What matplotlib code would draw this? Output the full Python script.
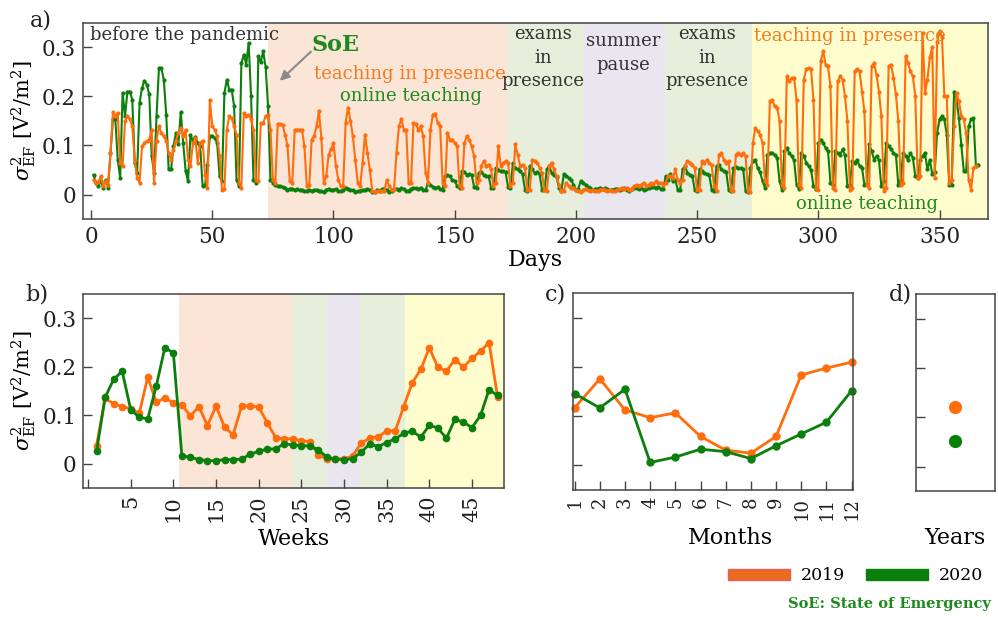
import numpy as np
import matplotlib.pyplot as plt
from matplotlib.patches import Patch

plt.rcParams['font.family'] = 'DejaVu Serif'
plt.rcParams['mathtext.fontset'] = 'dejavuserif'

ORANGE = '#ff6d0d'
GREEN = '#0b7f0b'
TXT_OR = '#f47b20'
TXT_GR = '#1c8a1c'

# daily variance 2019 (1 Jan = Tue), rows are Mon..Sun weeks
daily_2019 = [
    0.030, 0.024, 0.025, 0.037, 0.017, 0.027,
    0.020, 0.085, 0.168, 0.160, 0.166, 0.064, 0.058,
    0.149, 0.160, 0.153, 0.139, 0.071, 0.034, 0.024,
    0.098, 0.105, 0.109, 0.112, 0.132, 0.024, 0.110,
    0.139, 0.126, 0.119, 0.109, 0.085, 0.071, 0.090,
    0.110, 0.125, 0.136, 0.120, 0.132, 0.071, 0.058,
    0.105, 0.115, 0.064, 0.105, 0.110, 0.040, 0.014,
    0.193, 0.139, 0.132, 0.119, 0.078, 0.010, 0.012,
    0.132, 0.160, 0.155, 0.139, 0.122, 0.024, 0.014,
    0.166, 0.160, 0.163, 0.153, 0.132, 0.030, 0.027,
    0.146, 0.146, 0.160, 0.163, 0.132, 0.030, 0.024,
    0.144, 0.144, 0.142, 0.122, 0.100, 0.027, 0.024,
    0.132, 0.132, 0.132, 0.132, 0.098, 0.017, 0.020,
    0.112, 0.119, 0.139, 0.170, 0.115, 0.024, 0.037,
    0.081, 0.092, 0.105, 0.058, 0.030, 0.017, 0.017,
    0.146, 0.177, 0.150, 0.119, 0.070, 0.024, 0.017,
    0.064, 0.122, 0.085, 0.050, 0.007, 0.005, 0.007,
    0.007, 0.007, 0.008, 0.030, 0.017, 0.010, 0.012,
    0.085, 0.139, 0.154, 0.132, 0.132, 0.024, 0.024,
    0.146, 0.144, 0.132, 0.139, 0.119, 0.044, 0.024,
    0.132, 0.163, 0.165, 0.146, 0.139, 0.024, 0.017,
    0.126, 0.112, 0.112, 0.105, 0.098, 0.017, 0.014,
    0.105, 0.119, 0.112, 0.098, 0.078, 0.024, 0.030,
    0.058, 0.068, 0.058, 0.061, 0.051, 0.017, 0.024,
    0.098, 0.058, 0.064, 0.068, 0.064, 0.017, 0.024,
    0.102, 0.081, 0.058, 0.061, 0.054, 0.010, 0.010,
    0.071, 0.068, 0.065, 0.055, 0.044, 0.010, 0.007,
    0.058, 0.065, 0.051, 0.037, 0.020, 0.007, 0.007,
    0.024, 0.017, 0.014, 0.014, 0.010, 0.007, 0.005,
    0.010, 0.012, 0.010, 0.008, 0.010, 0.007, 0.008,
    0.010, 0.012, 0.010, 0.008, 0.010, 0.008, 0.007,
    0.010, 0.012, 0.014, 0.012, 0.014, 0.010, 0.012,
    0.017, 0.020, 0.017, 0.020, 0.024, 0.017, 0.020,
    0.024, 0.022, 0.027, 0.024, 0.024, 0.020, 0.024,
    0.037, 0.037, 0.034, 0.051, 0.030, 0.024, 0.030,
    0.058, 0.068, 0.065, 0.061, 0.055, 0.010, 0.010,
    0.068, 0.064, 0.071, 0.064, 0.060, 0.017, 0.007,
    0.081, 0.085, 0.071, 0.064, 0.068, 0.010, 0.007,
    0.081, 0.085, 0.081, 0.084, 0.078, 0.007, 0.005,
    0.105, 0.136, 0.129, 0.122, 0.105, 0.027, 0.020,
    0.190, 0.193, 0.180, 0.177, 0.150, 0.020, 0.014,
    0.241, 0.231, 0.238, 0.238, 0.193, 0.020, 0.014,
    0.234, 0.255, 0.258, 0.255, 0.193, 0.014, 0.010,
    0.272, 0.292, 0.265, 0.261, 0.221, 0.014, 0.010,
    0.231, 0.241, 0.234, 0.200, 0.150, 0.010, 0.014,
    0.251, 0.255, 0.251, 0.210, 0.170, 0.020, 0.014,
    0.261, 0.268, 0.244, 0.210, 0.160, 0.007, 0.014,
    0.261, 0.265, 0.238, 0.204, 0.150, 0.020, 0.024,
    0.282, 0.268, 0.251, 0.241, 0.200, 0.034, 0.037,
    0.330, 0.207, 0.234, 0.280, 0.300, 0.034, 0.310,
    0.333, 0.322, 0.200, 0.200, 0.024, 0.030, 0.139,
    0.207, 0.190, 0.160, 0.153, 0.125, 0.030, 0.010,
    0.054, 0.058,
]

# daily variance 2020 (1 Jan = Wed), rows are Mon..Sun weeks
daily_2020 = [
    0.040, 0.024, 0.017, 0.027, 0.014,
    0.030, 0.014, 0.085, 0.153, 0.153, 0.071, 0.034,
    0.207, 0.160, 0.210, 0.210, 0.193, 0.064, 0.044,
    0.187, 0.217, 0.232, 0.224, 0.204, 0.078, 0.044,
    0.160, 0.258, 0.258, 0.234, 0.163, 0.051, 0.051,
    0.098, 0.126, 0.102, 0.168, 0.105, 0.048, 0.027,
    0.122, 0.109, 0.118, 0.105, 0.098, 0.017, 0.020,
    0.060, 0.119, 0.119, 0.115, 0.105, 0.037, 0.027,
    0.207, 0.234, 0.214, 0.214, 0.180, 0.030, 0.017,
    0.268, 0.285, 0.265, 0.309, 0.200, 0.030, 0.024,
    0.282, 0.270, 0.292, 0.260, 0.180, 0.030, 0.024,
    0.020, 0.018, 0.017, 0.015, 0.014, 0.010, 0.012,
    0.012, 0.010, 0.011, 0.009, 0.010, 0.007, 0.008,
    0.010, 0.008, 0.009, 0.010, 0.008, 0.007, 0.006,
    0.010, 0.012, 0.009, 0.010, 0.011, 0.008, 0.007,
    0.010, 0.014, 0.012, 0.010, 0.009, 0.006, 0.007,
    0.008, 0.010, 0.009, 0.011, 0.010, 0.006, 0.005,
    0.010, 0.008, 0.011, 0.012, 0.009, 0.006, 0.007,
    0.011, 0.012, 0.010, 0.013, 0.011, 0.008, 0.008,
    0.012, 0.014, 0.013, 0.012, 0.014, 0.010, 0.009,
    0.024, 0.020, 0.016, 0.014, 0.015, 0.011, 0.010,
    0.037, 0.040, 0.037, 0.030, 0.028, 0.017, 0.014,
    0.048, 0.046, 0.040, 0.041, 0.040, 0.016, 0.014,
    0.044, 0.046, 0.040, 0.038, 0.037, 0.014, 0.014,
    0.054, 0.050, 0.047, 0.047, 0.045, 0.016, 0.014,
    0.064, 0.054, 0.051, 0.048, 0.041, 0.010, 0.007,
    0.058, 0.051, 0.044, 0.046, 0.042, 0.010, 0.009,
    0.051, 0.058, 0.044, 0.040, 0.036, 0.014, 0.007,
    0.041, 0.037, 0.034, 0.030, 0.020, 0.010, 0.012,
    0.027, 0.024, 0.020, 0.016, 0.014, 0.010, 0.012,
    0.012, 0.014, 0.012, 0.013, 0.011, 0.009, 0.010,
    0.011, 0.012, 0.010, 0.012, 0.013, 0.009, 0.008,
    0.012, 0.014, 0.013, 0.012, 0.014, 0.010, 0.011,
    0.014, 0.016, 0.015, 0.014, 0.016, 0.012, 0.011,
    0.037, 0.030, 0.041, 0.027, 0.030, 0.010, 0.010,
    0.051, 0.058, 0.044, 0.040, 0.038, 0.010, 0.007,
    0.051, 0.048, 0.044, 0.041, 0.040, 0.010, 0.007,
    0.058, 0.061, 0.051, 0.048, 0.046, 0.010, 0.008,
    0.054, 0.056, 0.054, 0.054, 0.051, 0.007, 0.005,
    0.054, 0.068, 0.071, 0.054, 0.045, 0.027, 0.014,
    0.081, 0.085, 0.085, 0.081, 0.075, 0.027, 0.010,
    0.088, 0.095, 0.085, 0.078, 0.070, 0.020, 0.012,
    0.085, 0.078, 0.065, 0.058, 0.050, 0.017, 0.012,
    0.105, 0.112, 0.105, 0.095, 0.088, 0.024, 0.020,
    0.088, 0.085, 0.081, 0.092, 0.080, 0.017, 0.020,
    0.068, 0.065, 0.071, 0.058, 0.055, 0.020, 0.022,
    0.102, 0.088, 0.071, 0.078, 0.070, 0.017, 0.027,
    0.105, 0.098, 0.092, 0.085, 0.081, 0.020, 0.030,
    0.085, 0.078, 0.071, 0.085, 0.075, 0.037, 0.033,
    0.071, 0.078, 0.085, 0.051, 0.071, 0.041, 0.045,
    0.126, 0.153, 0.160, 0.153, 0.122, 0.020, 0.020,
    0.210, 0.193, 0.156, 0.100, 0.048, 0.048, 0.139,
    0.153, 0.156, 0.058, 0.061,
]

weekly_2019 = [0.038, 0.135, 0.124, 0.118, 0.114, 0.104, 0.179, 0.127, 0.136, 0.126,
               0.121, 0.099, 0.118, 0.079, 0.119, 0.076, 0.060, 0.119, 0.120, 0.117,
               0.085, 0.054, 0.052, 0.052, 0.048, 0.046, 0.019, 0.010, 0.010, 0.011,
               0.016, 0.043, 0.053, 0.056, 0.068, 0.068, 0.118, 0.167, 0.195, 0.239,
               0.199, 0.191, 0.215, 0.199, 0.218, 0.232, 0.250, 0.138]
weekly_2020 = [0.026, 0.137, 0.174, 0.191, 0.112, 0.096, 0.093, 0.161, 0.239, 0.229,
               0.017, 0.014, 0.009, 0.007, 0.007, 0.009, 0.009, 0.010, 0.020, 0.026,
               0.031, 0.031, 0.042, 0.039, 0.038, 0.037, 0.029, 0.014, 0.010, 0.009,
               0.011, 0.024, 0.041, 0.036, 0.044, 0.052, 0.063, 0.068, 0.055, 0.080,
               0.074, 0.053, 0.092, 0.086, 0.075, 0.100, 0.153, 0.141]

months = list(range(1, 13))
monthly_2019 = [0.117, 0.176, 0.113, 0.097, 0.107, 0.059, 0.031, 0.025, 0.059, 0.184, 0.198, 0.210]
monthly_2020 = [0.146, 0.117, 0.155, 0.006, 0.017, 0.033, 0.028, 0.014, 0.040, 0.064, 0.088, 0.152]

yearly_2019 = 0.120
yearly_2020 = 0.051

# teaching periods: (start, end, colour)
periods_days = [(73.1, 171.6, '#fbe5d6'), (171.6, 203.2, '#e7eedc'),
                (203.2, 236.6, '#e9e6ef'), (236.6, 272.5, '#e7eedc'),
                (272.5, 372, '#fffdcd')]
periods_weeks = [(10.66, 23.95, '#fbe5d6'), (23.95, 27.97, '#e7eedc'),
                 (27.97, 31.9, '#e9e6ef'), (31.9, 37.2, '#e7eedc'),
                 (37.2, 50, '#fffdcd')]


def style(ax):
    for s in ax.spines.values():
        s.set_color('#444444')
        s.set_linewidth(1.1)
    ax.tick_params(direction='in', length=6.5, width=1, color='#444444',
                   labelsize=15.5, labelcolor='#222222', pad=5)
    ax.set_ylim(-0.05, 0.35)
    ax.set_yticks([0, 0.1, 0.2, 0.3])


fig = plt.figure(figsize=(9.98, 6.17), dpi=100)

ylab = r'$\sigma^2_{\mathrm{EF}}$ [V$^2$/m$^2$]'

# a) daily
ax = fig.add_axes([0.083, 0.645, 0.907, 0.318])
style(ax)
for a, b, c in periods_days:
    ax.axvspan(a, b, color=c, lw=0, zorder=0)
x19 = np.arange(1, len(daily_2019) + 1)
x20 = np.arange(1, len(daily_2020) + 1)
ax.plot(x20, daily_2020, '-o', color=GREEN, lw=1.5, ms=2)
ax.plot(x19, daily_2019, '-o', color=ORANGE, lw=1.5, ms=2)
ax.set_xlim(-3.4, 370)
ax.set_xticks(range(0, 351, 50))
ax.set_yticklabels(['0', '0.1', '0.2', '0.3'])
ax.set_xlabel('Days', fontsize=16, labelpad=1)
ax.set_ylabel(ylab, fontsize=15, labelpad=3)

ax.text(-0.5, 0.326, 'before the pandemic', fontsize=13, color='#333333', va='center')
ax.text(101, 0.304, 'SoE', fontsize=16, color=TXT_GR, fontweight='bold', ha='center', va='center')
ax.text(131.5, 0.246, 'teaching in presence', fontsize=13, color=TXT_OR, ha='center', va='center')
ax.text(132, 0.200, 'online teaching', fontsize=13, color=TXT_GR, ha='center', va='center')
ax.annotate('', xy=(77, 0.228), xytext=(91.5, 0.295),
            arrowprops=dict(arrowstyle='-|>', color='#8a8a8a', lw=1.5, mutation_scale=14))
ax.text(186.3, 0.279, 'exams\nin\npresence', fontsize=13, color='#333333',
        ha='center', va='center', linespacing=1.4)
ax.text(219.7, 0.288, 'summer\npause', fontsize=13, color='#333333',
        ha='center', va='center', linespacing=1.4)
ax.text(254, 0.279, 'exams\nin\npresence', fontsize=13, color='#333333',
        ha='center', va='center', linespacing=1.4)
ax.text(273.5, 0.324, 'teaching in presence', fontsize=13, color=TXT_OR, va='center')
ax.text(320, -0.02, 'online teaching', fontsize=13, color=TXT_GR, ha='center', va='center')

# b) weekly
ax = fig.add_axes([0.0835, 0.2086, 0.4215, 0.315])
style(ax)
for a, b, c in periods_weeks:
    ax.axvspan(a, b, color=c, lw=0, zorder=0)
weeks = np.arange(1, len(weekly_2019) + 1)
ax.plot(weeks, weekly_2019, '-o', color=ORANGE, lw=2, ms=4.5, clip_on=False)
ax.plot(weeks, weekly_2020, '-o', color=GREEN, lw=2, ms=4.5, clip_on=False)
ax.set_xlim(-0.55, 48.75)
ax.set_xticks(range(0, 46, 5))
ax.set_xticklabels([''] + [str(v) for v in range(5, 46, 5)], rotation=90, fontsize=15)
ax.set_yticklabels(['0', '0.1', '0.2', '0.3'])
ax.set_xlabel('Weeks', fontsize=16, labelpad=4)
ax.set_ylabel(ylab, fontsize=15, labelpad=3)

# c) monthly
ax = fig.add_axes([0.5745, 0.2058, 0.2806, 0.3188])
style(ax)
ax.plot(months, monthly_2019, '-o', color=ORANGE, lw=2, ms=5, clip_on=False)
ax.plot(months, monthly_2020, '-o', color=GREEN, lw=2, ms=5, clip_on=False)
ax.set_xlim(0.95, 12.07)
ax.set_xticks(months)
ax.set_xticklabels([str(m) for m in months], rotation=90, fontsize=13)
ax.set_yticklabels([])
ax.set_xlabel('Months', fontsize=16)
ax.xaxis.set_label_coords(0.56, -0.19)

# d) yearly
ax = fig.add_axes([0.918, 0.204, 0.0785, 0.319])
style(ax)
ax.plot([1], [yearly_2019], 'o', color=ORANGE, ms=8.5)
ax.plot([1], [yearly_2020], 'o', color=GREEN, ms=8.5)
ax.set_xlim(0, 2)
ax.set_xticks([])
ax.set_yticklabels([])
ax.set_xlabel('Years', fontsize=16, labelpad=26)

for lab, px, py in [('a)', 41, 20), ('b)', 37, 295), ('c)', 556, 294), ('d)', 900, 294)]:
    fig.text(px / 998, 1 - py / 617, lab, fontsize=16, ha='center', va='center', color='#222222')

handles = [Patch(facecolor='#ea6c1c', edgecolor='#e36060', label='2019'),
           Patch(facecolor=GREEN, edgecolor=GREEN, label='2020')]
fig.legend(handles=handles, loc='center right', bbox_to_anchor=(0.997, 1 - 576 / 617),
           ncol=2, frameon=False, fontsize=12.5, handlelength=3.6, handleheight=0.62,
           handletextpad=0.6, columnspacing=1.2, borderpad=0.2)
fig.text(0.993, 1 - 604 / 617, 'SoE: State of Emergency', fontsize=10.5,
         fontweight='bold', color=TXT_GR, ha='right', va='center')

fig.savefig('out.png', dpi=100)
